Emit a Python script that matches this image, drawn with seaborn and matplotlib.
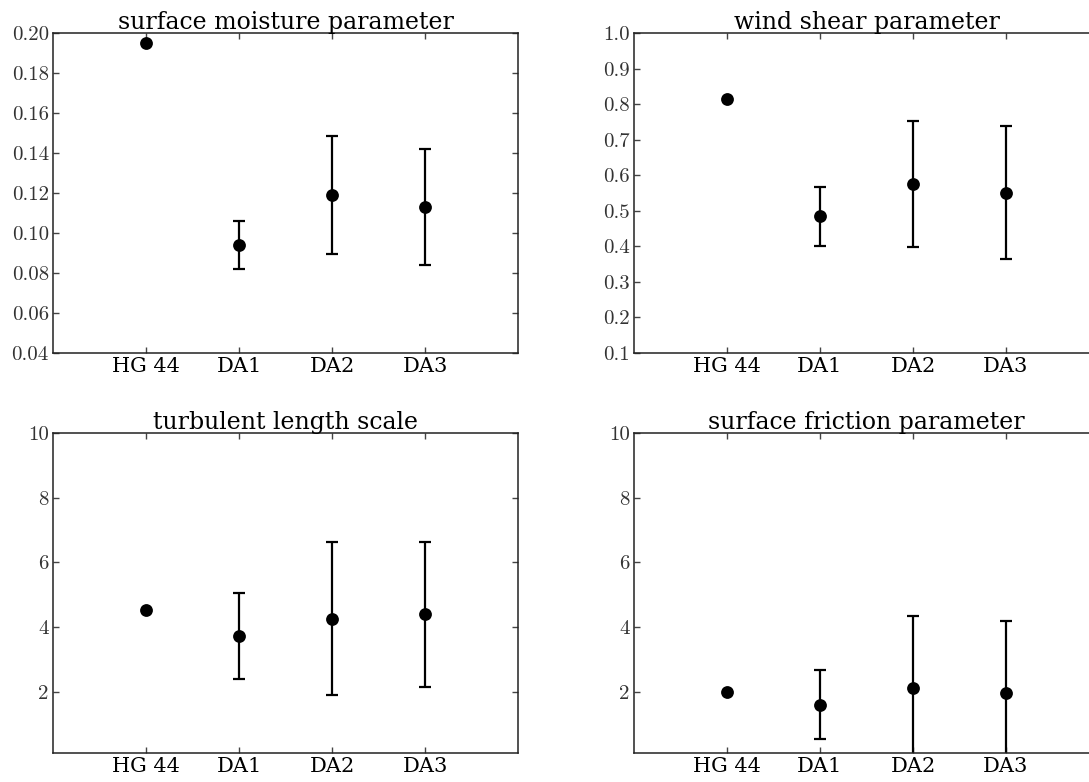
import numpy as np
import pandas as pd
import matplotlib
matplotlib.use("Agg")
import matplotlib.pyplot as plt
import seaborn as sns

categories = ["HG 44", "DA1", "DA2", "DA3"]

titles = ["surface moisture parameter", "wind shear parameter",
          "turbulent length scale", "surface friction parameter"]

moisture_mean = [0.195, 0.094, 0.119, 0.113]
moisture_err = [np.nan, 0.012, 0.0295, 0.029]

shear_mean = [0.813, 0.484, 0.575, 0.551]
shear_err = [np.nan, 0.083, 0.177, 0.188]

length_mean = [4.52, 3.73, 4.26, 4.39]
length_err = [np.nan, 1.33, 2.37, 2.235]

friction_mean = [2.0, 1.60, 2.10, 1.97]
friction_err = [np.nan, 1.08, 2.25, 2.2]

ylims = [(0.04, 0.20), (0.1, 1.0), (0.1, 10), (0.1, 10)]
yticks = [np.arange(0.04, 0.2001, 0.02), np.arange(0.1, 1.0001, 0.1),
          [2, 4, 6, 8, 10], [2, 4, 6, 8, 10]]
yfmt = ["{:.2f}", "{:.1f}", "{:g}", "{:g}"]

sns.set_style("ticks")
plt.rcParams["axes.edgecolor"] = "#222222"
plt.rcParams["text.color"] = "black"

W, H = 1089, 782
fig = plt.figure(figsize=(W / 100, H / 100), dpi=100)

# axes boxes in pixels: left, top, width, height
boxes = [(53, 33, 465, 320), (634, 33, 465, 320),
         (53, 433, 465, 320), (634, 433, 465, 320)]

means = [moisture_mean, shear_mean, length_mean, friction_mean]
errs = [moisture_err, shear_err, length_err, friction_err]

serif = ["DejaVu Serif"]

for i in range(4):
    l, t, w, h = boxes[i]
    ax = fig.add_axes([l / W, 1 - (t + h) / H, w / W, h / H])
    df = pd.DataFrame({"pos": np.arange(1, len(categories) + 1),
                       "cat": categories, "mean": means[i], "err": errs[i]})
    de = df.dropna()
    ax.errorbar(de["pos"], de["mean"], yerr=de["err"], fmt="none",
                ecolor="black", elinewidth=1.6, capsize=4, capthick=1.6, zorder=2)
    sns.scatterplot(data=df, x="pos", y="mean", ax=ax, color="black",
                    s=85, edgecolor="black", linewidth=0, zorder=3, legend=False)
    ax.set_xlim(0, 5)
    ax.set_ylim(*ylims[i])
    ax.set_xticks(df["pos"])
    ax.set_xticklabels(categories, fontsize=15, family=serif, color="black")
    ax.set_yticks(yticks[i])
    ax.set_yticklabels([yfmt[i].format(v) for v in yticks[i]],
                       fontsize=15, family="cmr10", color="#333333")
    ax.tick_params(direction="in", top=True, right=True, length=4, width=1,
                   color="#444444", pad=3)
    ax.set_xlabel("")
    ax.set_ylabel("")
    for s in ax.spines.values():
        s.set_linewidth(1.1)
    ax.set_title(titles[i], fontsize=17, family=serif, pad=3, color="black")

fig.savefig("out.png", dpi=100)
